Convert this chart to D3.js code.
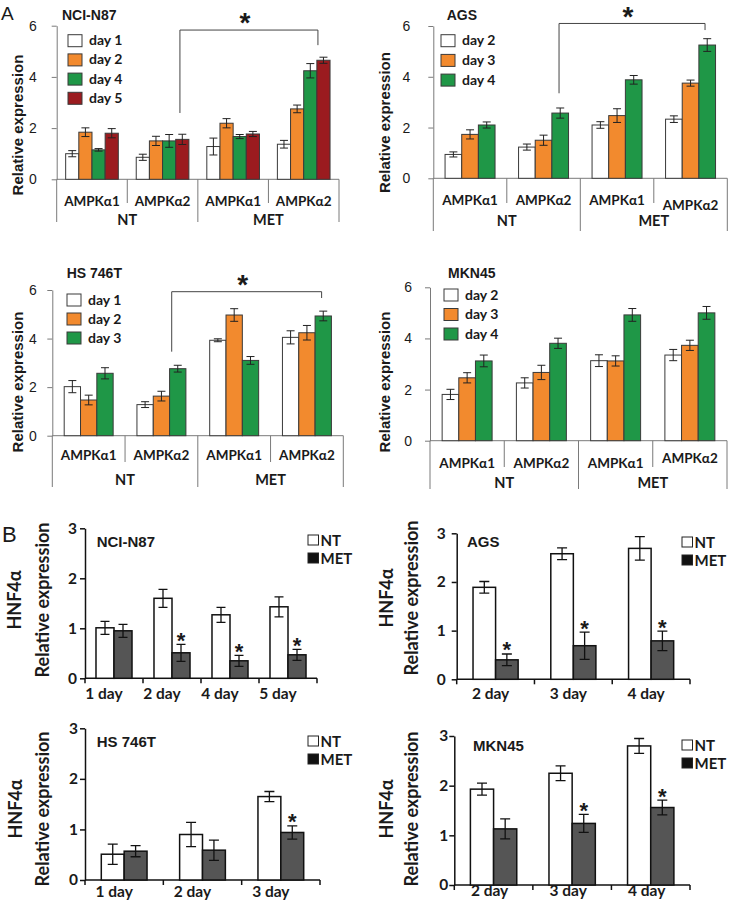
<!DOCTYPE html>
<html><head><meta charset="utf-8">
<script src="https://cdn.jsdelivr.net/npm/d3@7"></script>
<style>body{margin:0;background:#fff} svg{display:block}</style>
</head><body>
<svg id="fig" width="731" height="905"></svg>
<script>
// ---------- DATA ----------
// Panel A (AMPK alpha expression)
const ampkCategories = ["AMPKα1", "AMPKα2", "AMPKα1", "AMPKα2"];
const ampkTreatments = ["NT", "MET"];
const yTicksA = [0, 2, 4, 6];

const n87Days = ["day 1", "day 2", "day 4", "day 5"];
const n87Means = [[1.00, 1.84, 1.15, 1.80], [0.86, 1.50, 1.50, 1.56], [1.28, 2.19, 1.67, 1.77], [1.37, 2.75, 4.24, 4.65]];
const n87Errs  = [[0.12, 0.17, 0.05, 0.18], [0.12, 0.18, 0.25, 0.20], [0.33, 0.18, 0.08, 0.10], [0.15, 0.15, 0.28, 0.12]];

const agsDays = ["day 2", "day 3", "day 4"];
const agsMeans = [[0.94, 1.73, 2.10], [1.23, 1.50, 2.57], [2.10, 2.47, 3.88], [2.33, 3.75, 5.25]];
const agsErrs  = [[0.10, 0.18, 0.12], [0.12, 0.20, 0.20], [0.13, 0.27, 0.17], [0.13, 0.12, 0.25]];

const hsDays = ["day 1", "day 2", "day 3"];
const hsMeans = [[2.02, 1.47, 2.57], [1.28, 1.63, 2.76], [3.93, 4.97, 3.10], [4.05, 4.24, 4.93]];
const hsErrs  = [[0.25, 0.20, 0.23], [0.12, 0.20, 0.14], [0.06, 0.26, 0.16], [0.27, 0.30, 0.20]];

const mknDays = ["day 2", "day 3", "day 4"];
const mknMeans = [[1.81, 2.46, 3.12], [2.26, 2.67, 3.81], [3.13, 3.12, 4.92], [3.35, 3.73, 5.00]];
const mknErrs  = [[0.20, 0.20, 0.23], [0.20, 0.28, 0.20], [0.23, 0.20, 0.25], [0.22, 0.20, 0.25]];

// Panel B (HNF4alpha expression)
const hnfSeries = ["NT", "MET"];
const yTicksB = [0, 1, 2, 3];

const n87HnfDays = ["1 day", "2 day", "4 day", "5 day"];
const n87HnfNT = [1.01, 1.60, 1.27, 1.43];
const n87HnfNTErr = [0.13, 0.18, 0.15, 0.20];
const n87HnfMET = [0.95, 0.51, 0.35, 0.47];
const n87HnfMETErr = [0.13, 0.17, 0.11, 0.11];
const n87HnfSig = [false, true, true, true];

const agsHnfDays = ["2 day", "3 day", "4 day"];
const agsHnfNT = [1.89, 2.58, 2.69];
const agsHnfNTErr = [0.12, 0.12, 0.24];
const agsHnfMET = [0.40, 0.69, 0.79];
const agsHnfMETErr = [0.12, 0.28, 0.20];
const agsHnfSig = [true, true, true];

const hsHnfDays = ["1 day", "2 day", "3 day"];
const hsHnfNT = [0.51, 0.90, 1.65];
const hsHnfNTErr = [0.20, 0.24, 0.10];
const hsHnfMET = [0.57, 0.59, 0.94];
const hsHnfMETErr = [0.11, 0.20, 0.13];
const hsHnfSig = [false, false, true];

const mknHnfDays = ["2 day", "3 day", "4 day"];
const mknHnfNT = [1.93, 2.25, 2.80];
const mknHnfNTErr = [0.12, 0.15, 0.15];
const mknHnfMET = [1.13, 1.24, 1.56];
const mknHnfMETErr = [0.20, 0.18, 0.15];
const mknHnfSig = [false, true, true];

// ---------- STYLE ----------
const dayColors = ["#ffffff", "#f28a2e", "#1f9747", "#9b1b1f"];
const CAL = "Lato, 'Open Sans', sans-serif";
const ARI = "'Liberation Sans', Arial, sans-serif";
const INK = "#1a1a1a";

const svg = d3.select("#fig");

function drawA(c) {
  const g = svg.append("g");
  const nCat = c.means.length;
  const x0 = d3.scaleBand().domain(d3.range(nCat)).range([c.x0, c.x1])
    .paddingInner(c.pad).paddingOuter(c.pad / 2);
  const x1 = d3.scaleBand().domain(d3.range(c.series.length)).range([0, x0.bandwidth()]);
  const y = d3.scaleLinear().domain([0, 6]).range([c.yb, c.yt]);
  const step = x0.step();

  // y axis
  const ax = g.append("g").attr("transform", `translate(${c.x0},0)`)
    .call(d3.axisLeft(y).tickValues(yTicksA).tickFormat(d3.format("d"))
      .tickSize(5).tickPadding(c.tp).tickSizeOuter(0));
  ax.select(".domain").attr("stroke", "#7a7a7a");
  ax.selectAll(".tick line").attr("stroke", "#7a7a7a");
  ax.selectAll("text").attr("font-family", ARI).attr("font-size", 14).attr("fill", INK);

  // horizontal axis + category table lines
  g.append("line").attr("x1", c.x0).attr("x2", c.x1).attr("y1", y(0)).attr("y2", y(0)).attr("stroke", "#7a7a7a");
  d3.range(nCat + 1).forEach(i => {
    const xx = c.x0 + i * step;
    g.append("line").attr("x1", xx).attr("x2", xx).attr("y1", y(0))
      .attr("y2", i % 2 === 0 ? c.fullY : c.shortY).attr("stroke", "#7a7a7a");
  });
  ampkCategories.forEach((lab, i) => {
    g.append("text").attr("x", c.x0 + (i + 0.5) * step).attr("y", c.catY + (c.catDy ? c.catDy[i] : 0))
      .attr("text-anchor", "middle").attr("font-family", CAL).attr("font-weight", 700)
      .attr("font-size", 13.5).attr("fill", INK).text(lab);
  });
  ampkTreatments.forEach((lab, i) => {
    g.append("text").attr("x", c.x0 + (2 * i + 1) * step).attr("y", c.trtY)
      .attr("text-anchor", "middle").attr("font-family", CAL).attr("font-weight", 700)
      .attr("font-size", 14.5).attr("fill", INK).text(lab);
  });

  // bars
  const cells = [];
  c.means.forEach((row, i) => row.forEach((v, j) => cells.push({ i, j, v, e: c.errs[i][j] })));
  const bw = x1.bandwidth();
  g.selectAll("rect.bar").data(cells).join("rect").attr("class", "bar")
    .attr("x", d => x0(d.i) + x1(d.j)).attr("y", d => y(d.v))
    .attr("width", bw).attr("height", d => y(0) - y(d.v))
    .attr("fill", d => dayColors[d.j]).attr("stroke", "#3a3a3a").attr("stroke-width", 1);
  const cap = 4;
  g.selectAll("path.err").data(cells).join("path").attr("class", "err")
    .attr("d", d => {
      const cx = x0(d.i) + x1(d.j) + bw / 2, t = y(d.v + d.e), b = y(d.v - d.e);
      return `M${cx - cap},${t}H${cx + cap}M${cx},${t}V${b}M${cx - cap},${b}H${cx + cap}`;
    }).attr("stroke", "#222").attr("fill", "none").attr("stroke-width", 1);

  // legend
  c.series.forEach((s, k) => {
    const cy = c.ly + k * c.ls;
    g.append("rect").attr("x", c.lx).attr("y", cy - 6).attr("width", 14).attr("height", 12)
      .attr("fill", dayColors[k]).attr("stroke", "#3a3a3a");
    g.append("text").attr("x", c.lx + 21).attr("y", cy + 4.5).attr("font-family", CAL)
      .attr("font-weight", 700).attr("font-size", 14).attr("fill", INK).text(s);
  });

  // title
  g.append("text").attr("x", c.tx).attr("y", c.ty).attr("font-family", ARI).attr("font-weight", 700)
    .attr("font-size", 14).attr("fill", INK).text(c.title);
  // y label
  g.append("text").attr("transform", `translate(${c.ylx},${c.yly}) rotate(-90)`).attr("dy", "0.35em")
    .attr("text-anchor", "middle").attr("font-family", ARI).attr("font-weight", 700)
    .attr("font-size", 15).attr("fill", INK).text("Relative expression");

  // significance bracket
  if (c.br) {
    const b = c.br;
    const xl = x0(b.i1) + b.f1 * x0.bandwidth(), xr = x0(b.i2) + b.f2 * x0.bandwidth();
    g.append("path").attr("d", `M${xl},${y(b.yl)}V${y(b.yt)}H${xr}V${y(b.yr)}`)
      .attr("stroke", "#444").attr("fill", "none").attr("stroke-width", 1);
    g.append("text").attr("x", (xl + xr) / 2 - 4).attr("y", Math.max(y(b.yt) - 14, 10) + 16)
      .attr("text-anchor", "middle").attr("font-family", ARI).attr("font-weight", 700)
      .attr("font-size", 28).attr("fill", INK).text("*");
  }
}

function drawB(c) {
  const g = svg.append("g");
  const x0 = d3.scaleBand().domain(c.days).range([c.x0, c.x1]).paddingInner(c.pad).paddingOuter(c.pad / 2);
  const x1 = d3.scaleBand().domain(hnfSeries).range([0, x0.bandwidth()]);
  const y = d3.scaleLinear().domain([0, 3]).range([c.yb, c.yt]);
  const step = x0.step();

  const ax = g.append("g").attr("transform", `translate(${c.x0},0)`)
    .call(d3.axisLeft(y).tickValues(yTicksB).tickFormat(d3.format("d"))
      .tickSize(5).tickPadding(c.tp).tickSizeOuter(0));
  ax.select(".domain").attr("stroke", "#111").attr("stroke-width", 1.5);
  ax.selectAll(".tick line").attr("stroke", "#111").attr("stroke-width", 1.5);
  ax.selectAll("text").attr("font-family", CAL).attr("font-weight", 700).attr("font-size", 15.5).attr("fill", INK);

  g.append("line").attr("x1", c.x0).attr("x2", c.x1).attr("y1", y(0)).attr("y2", y(0))
    .attr("stroke", "#111").attr("stroke-width", 1.5);
  d3.range(c.days.length + 1).forEach(i => {
    const xx = c.x0 + i * step;
    g.append("line").attr("x1", xx).attr("x2", xx).attr("y1", y(0)).attr("y2", y(0) + 5)
      .attr("stroke", "#111").attr("stroke-width", 1.5);
  });

  const cells = [];
  c.days.forEach((d, i) => {
    cells.push({ day: d, s: "NT", v: c.nt[i], e: c.ntErr[i], sig: false });
    cells.push({ day: d, s: "MET", v: c.met[i], e: c.metErr[i], sig: c.sig[i] });
  });
  const bw = x1.bandwidth();
  g.selectAll("rect.bar").data(cells).join("rect").attr("class", "bar")
    .attr("x", d => x0(d.day) + x1(d.s)).attr("y", d => y(d.v))
    .attr("width", bw).attr("height", d => y(0) - y(d.v))
    .attr("fill", d => d.s === "NT" ? "#ffffff" : "#555555").attr("stroke", "#111").attr("stroke-width", 1.5);
  const cap = c.cap;
  g.selectAll("path.err").data(cells).join("path").attr("class", "err")
    .attr("d", d => {
      const cx = x0(d.day) + x1(d.s) + bw / 2, t = y(d.v + d.e), b = y(d.v - d.e);
      return `M${cx - cap},${t}H${cx + cap}M${cx},${t}V${b}M${cx - cap},${b}H${cx + cap}`;
    }).attr("stroke", "#111").attr("fill", "none").attr("stroke-width", 1.3);
  g.selectAll("text.star").data(cells.filter(d => d.sig)).join("text").attr("class", "star")
    .attr("x", d => x0(d.day) + x1(d.s) + bw / 2).attr("y", d => y(d.v + d.e) - 9 + 12.5)
    .attr("text-anchor", "middle").attr("font-family", ARI).attr("font-weight", 700)
    .attr("font-size", 22).attr("fill", INK).text("*");

  // x labels
  c.days.forEach(d => {
    g.append("text").attr("x", x0(d) + x0.bandwidth() / 2 + c.lxOff).attr("y", c.xlb)
      .attr("text-anchor", "middle").attr("font-family", CAL).attr("font-weight", 700)
      .attr("font-size", 15.5).attr("fill", INK).text(d);
  });

  // title
  g.append("text").attr("x", c.tx).attr("y", c.ty).attr("font-family", ARI).attr("font-weight", 700)
    .attr("font-size", 15).attr("fill", INK).text(c.title);

  // legend
  hnfSeries.forEach((s, k) => {
    const top = c.ly + k * 18;
    g.append("rect").attr("x", c.lx).attr("y", top).attr("width", 10.5).attr("height", 10)
      .attr("fill", s === "NT" ? "#fff" : "#111").attr("stroke", "#222").attr("stroke-width", 1);
    g.append("text").attr("x", c.lx + 12.5).attr("y", top + 11).attr("font-family", CAL)
      .attr("font-weight", 700).attr("font-size", 15).attr("fill", INK).text(s);
  });

  // y labels
  g.append("text").attr("transform", `translate(${c.hx},${c.yly}) rotate(-90)`).attr("dy", "0.35em")
    .attr("text-anchor", "middle").attr("font-family", CAL).attr("font-weight", 700)
    .attr("font-size", 18).attr("fill", INK).text("HNF4α");
  g.append("text").attr("transform", `translate(${c.rx},${c.yly}) rotate(-90)`).attr("dy", "0.35em")
    .attr("text-anchor", "middle").attr("font-family", CAL).attr("font-weight", 700)
    .attr("font-size", 18).attr("fill", INK).text("Relative expression");
}

// panel letters
svg.append("text").attr("x", 1).attr("y", 20).attr("font-family", ARI).attr("font-size", 19).attr("fill", INK).text("A");
svg.append("text").attr("x", 2).attr("y", 542).attr("font-family", ARI).attr("font-size", 22).attr("fill", INK).text("B");

drawA({ title: "NCI-N87", tx: 62, ty: 19.5, series: n87Days, means: n87Means, errs: n87Errs,
  x0: 56.7, x1: 339, pad: 0.254, yb: 179.3, yt: 25.7, tp: 15, ylx: 18, yly: 125,
  lx: 68, ly: 40.7, ls: 19.2, catY: 206, trtY: 225, shortY: 203, fullY: 222,
  br: { i1: 1, f1: 0.83, i2: 3, f2: 0.77, yl: 2.59, yt: 5.83, yr: 5.24 } });
drawA({ title: "AGS", tx: 446.7, ty: 20, series: agsDays, means: agsMeans, errs: agsErrs,
  x0: 433.3, x1: 727.3, pad: 0.32, yb: 178.3, yt: 26, tp: 18, ylx: 385, yly: 122.5,
  lx: 441, ly: 40.7, ls: 19.7, catY: 205, catDy: [0, 0, 0, 5], trtY: 226, shortY: 203, fullY: 231,
  br: { i1: 1, f1: 0.81, i2: 3, f2: 0.79, yl: 3.35, yt: 6.1, yr: 5.84 } });
drawA({ title: "HS 746T", tx: 66.7, ty: 278, series: hsDays, means: hsMeans, errs: hsErrs,
  x0: 52.3, x1: 343.3, pad: 0.327, yb: 435.7, yt: 290, tp: 10.5, ylx: 17.5, yly: 382,
  lx: 67, ly: 300, ls: 19, catY: 460, trtY: 485, shortY: 462, fullY: 487,
  br: { i1: 1, f1: 0.71, i2: 3, f2: 0.8, yl: 3.46, yt: 5.93, yr: 5.67 } });
drawA({ title: "MKN45", tx: 448, ty: 278, series: mknDays, means: mknMeans, errs: mknErrs,
  x0: 430, x1: 727, pad: 0.327, yb: 440.7, yt: 287.3, tp: 13, ylx: 385, yly: 382,
  lx: 444, ly: 295, ls: 19.5, catY: 468, catDy: [0, 0, 0, -5], trtY: 488, shortY: 467, fullY: 489,
  br: null });

drawB({ title: "NCI-N87", tx: 96.7, ty: 547, days: n87HnfDays, nt: n87HnfNT, ntErr: n87HnfNTErr,
  met: n87HnfMET, metErr: n87HnfMETErr, sig: n87HnfSig,
  x0: 85, x1: 317, pad: 0.379, yb: 678.3, yt: 528.3, tp: 3, hx: 15, rx: 43, yly: 600,
  lx: 308, ly: 535, lxOff: -10, xlb: 699, cap: 4.5 });
drawB({ title: "AGS", tx: 467, ty: 547, days: agsHnfDays, nt: agsHnfNT, ntErr: agsHnfNTErr,
  met: agsHnfMET, metErr: agsHnfMETErr, sig: agsHnfSig,
  x0: 456.7, x1: 690, pad: 0.42, yb: 679.3, yt: 533.3, tp: 6, hx: 387, rx: 412, yly: 598,
  lx: 682, ly: 537, lxOff: -5, xlb: 699, cap: 5 });
drawB({ title: "HS 746T", tx: 96.7, ty: 746.5, days: hsHnfDays, nt: hsHnfNT, ntErr: hsHnfNTErr,
  met: hsHnfMET, metErr: hsHnfMETErr, sig: hsHnfSig,
  x0: 85, x1: 320, pad: 0.416, yb: 880, yt: 728.3, tp: 2, hx: 16, rx: 43, yly: 809,
  lx: 308, ly: 736, lxOff: -10, xlb: 897, cap: 5 });
drawB({ title: "MKN45", tx: 473, ty: 750.5, days: mknHnfDays, nt: mknHnfNT, ntErr: mknHnfNTErr,
  met: mknHnfMET, metErr: mknHnfMETErr, sig: mknHnfSig,
  x0: 454.3, x1: 690, pad: 0.41, yb: 885, yt: 736, tp: 1, hx: 387, rx: 412, yly: 809,
  lx: 682, ly: 740, lxOff: -4, xlb: 896, cap: 5 });
</script>
</body></html>
